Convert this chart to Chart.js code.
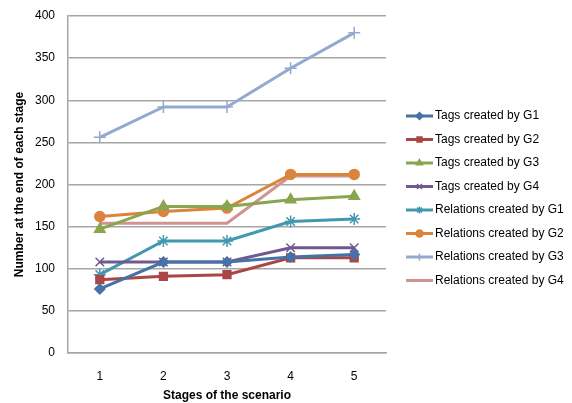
<!DOCTYPE html>
<html>
<head>
<meta charset="utf-8">
<script src="https://cdn.jsdelivr.net/npm/chart.js@4/dist/chart.umd.min.js"></script>
<style>
  body { margin: 0; background: #fff; }
  #wrap { width: 572px; height: 403px; position: relative; }
</style>
</head>
<body>
<div id="wrap"><canvas id="chart" width="572" height="403"></canvas></div>
<script>
// data
const stages = ['1', '2', '3', '4', '5'];
const tagsG1 = [76, 108, 108, 114, 117];
const tagsG2 = [87, 91, 93, 113, 113];
const tagsG3 = [147, 174, 174, 182, 186];
const tagsG4 = [108, 108, 108, 125, 125];
const relG1 = [93, 133, 133, 156, 159];
const relG2 = [162, 168, 172, 212, 212];
const relG3 = [256, 292, 292, 338, 380];
const relG4 = [154, 154, 154, 210, 210];
const yTicks = [0, 50, 100, 150, 200, 250, 300, 350, 400];

const font = 'Liberation Sans, Arial, sans-serif';

function series(label, data, color, style, radius) {
    return {
        label: label,
        data: data,
        borderColor: color,
        backgroundColor: color,
        borderWidth: 3,
        pointStyle: style,
        pointRadius: radius,
        pointBorderColor: color,
        pointBackgroundColor: color,
        pointBorderWidth: 1.5,
        tension: 0
    };
}

const datasets = [
    series('Tags created by G1', tagsG1, '#4572A7', 'rectRot', 5),
    series('Tags created by G2', tagsG2, '#AA4643', 'rect', 5.5),
    series('Tags created by G3', tagsG3, '#89A54E', 'triangle', 6),
    series('Tags created by G4', tagsG4, '#71588F', 'crossRot', 6),
    series('Relations created by G1', relG1, '#4198AF', 'star', 6),
    series('Relations created by G2', relG2, '#DB843D', 'circle', 5),
    series('Relations created by G3', relG3, '#93A9CF', 'cross', 6),
    series('Relations created by G4', relG4, '#D19392', false, 0)
];

// legend drawn by hand so each entry shows line + marker
const sideLegend = {
    id: 'sideLegend',
    afterDraw(chart) {
        const ctx = chart.ctx;
        ctx.save();
        ctx.font = '12px ' + font;
        ctx.textBaseline = 'middle';
        chart.data.datasets.forEach((ds, i) => {
            const y = 116 + i * 23.5;
            ctx.strokeStyle = ds.borderColor;
            ctx.lineWidth = 3;
            ctx.beginPath();
            ctx.moveTo(406, y);
            ctx.lineTo(433, y);
            ctx.stroke();
            if (ds.pointStyle) {
                ctx.fillStyle = ds.borderColor;
                ctx.lineWidth = 1.5;
                Chart.helpers.drawPoint(ctx, {pointStyle: ds.pointStyle, radius: 3.5, borderWidth: 1.5, rotation: 0}, 419.5, y);
            }
            ctx.fillStyle = '#000';
            ctx.fillText(ds.label, 435, y);
        });
        ctx.restore();
    }
};

new Chart(document.getElementById('chart'), {
    type: 'line',
    data: { labels: stages, datasets: datasets },
    options: {
        responsive: false,
        animation: false,
        layout: { padding: { top: 16, right: 186, left: 8, bottom: 0 } },
        plugins: { legend: { display: false }, tooltip: { enabled: false } },
        scales: {
            x: {
                offset: true,
                grid: { display: false },
                border: { display: true, color: '#A6A6A6', width: 1.5 },
                ticks: { color: '#000', font: { family: font, size: 12 }, padding: 8 },
                title: {
                    display: true, text: 'Stages of the scenario', color: '#000',
                    font: { family: font, size: 12, weight: 'bold' }, padding: { top: 0, bottom: 0 }
                },
                afterFit(scale) { scale.height = 50; }
            },
            y: {
                min: 0, max: 400,
                afterBuildTicks(scale) { scale.ticks = yTicks.map(v => ({ value: v })); },
                grid: { color: '#A6A6A6', lineWidth: 1.5, drawTicks: false },
                border: { display: true, color: '#A6A6A6', width: 1.5 },
                ticks: { color: '#000', font: { family: font, size: 12 }, padding: 13 },
                title: {
                    display: true, text: 'Number at the end of each stage', color: '#000',
                    font: { family: font, size: 12, weight: 'bold' }
                },
                afterFit(scale) { scale.width = 60; scale.paddingTop = 0; scale.paddingBottom = 0; }
            }
        }
    },
    plugins: [sideLegend]
});
</script>
</body>
</html>
